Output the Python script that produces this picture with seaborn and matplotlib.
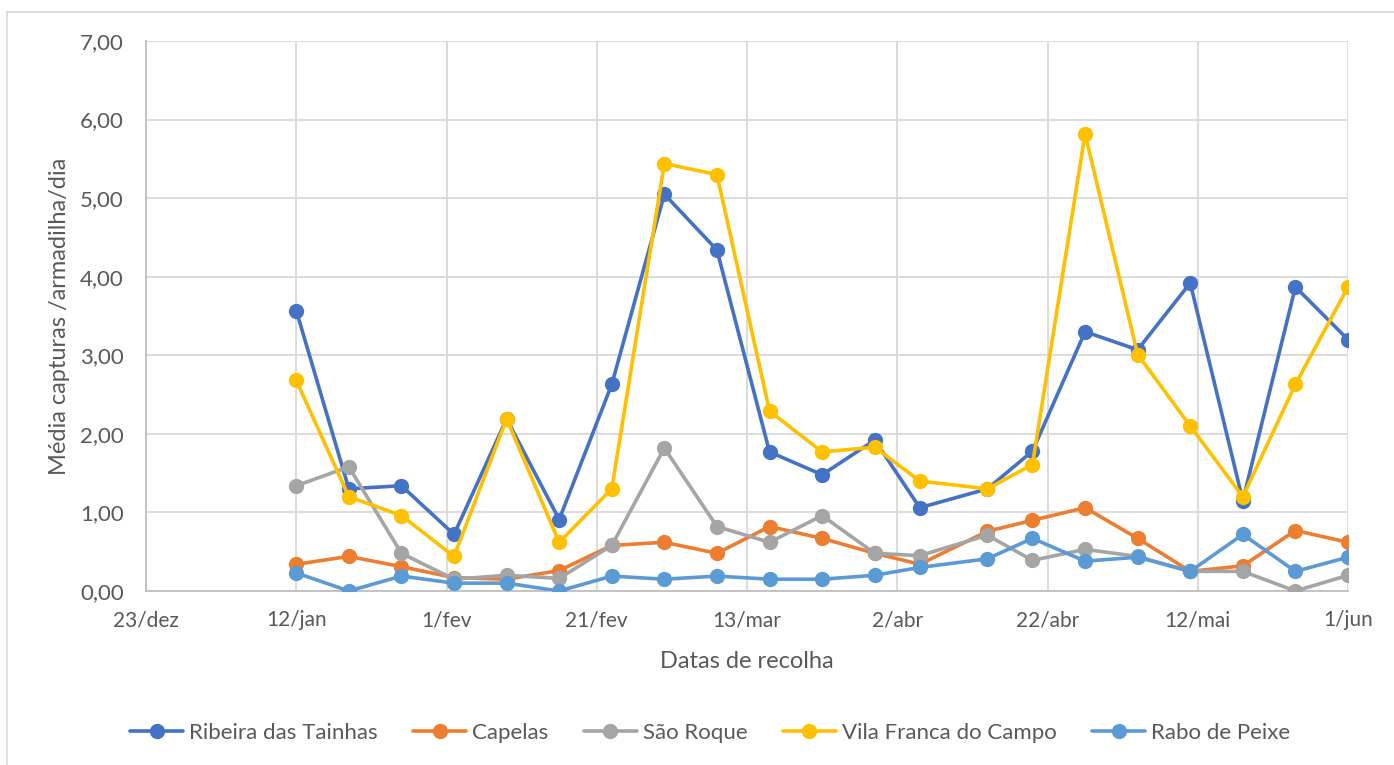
import matplotlib
matplotlib.use("Agg")
import matplotlib.pyplot as plt
import matplotlib.ticker as mticker
from matplotlib.lines import Line2D
import seaborn as sns
import pandas as pd

# ---------------- data ----------------
dates = ["2019-01-12", "2019-01-19", "2019-01-26", "2019-02-02", "2019-02-09",
         "2019-02-16", "2019-02-23", "2019-03-02", "2019-03-09", "2019-03-16",
         "2019-03-23", "2019-03-30", "2019-04-05", "2019-04-14", "2019-04-20",
         "2019-04-27", "2019-05-04", "2019-05-11", "2019-05-18", "2019-05-25",
         "2019-06-01"]

series_names = ["Ribeira das Tainhas", "Capelas", "São Roque",
                "Vila Franca do Campo", "Rabo de Peixe"]

ribeira = [3.57, 1.30, 1.34, 0.72, 2.19, 0.91, 2.63, 5.05, 4.34, 1.77, 1.48,
           1.92, 1.06, 1.30, 1.78, 3.30, 3.07, 3.92, 1.15, 3.87, 3.20]
capelas = [0.34, 0.44, 0.31, 0.17, 0.15, 0.26, 0.58, 0.62, 0.48, 0.82, 0.67,
           0.48, 0.34, 0.76, 0.90, 1.06, 0.67, 0.25, 0.32, 0.77, 0.62]
sao_roque = [1.34, 1.58, 0.48, 0.15, 0.20, 0.16, 0.58, 1.82, 0.82, 0.62, 0.96,
             0.48, 0.45, 0.71, 0.39, 0.53, 0.44, 0.25, 0.25, 0.00, 0.20]
vila_franca = [2.68, 1.20, 0.96, 0.44, 2.19, 0.62, 1.30, 5.44, 5.30, 2.29, 1.77,
               1.83, 1.40, 1.30, 1.61, 5.82, 3.01, 2.10, 1.20, 2.63, 3.87]
rabo_peixe = [0.23, 0.00, 0.19, 0.10, 0.10, 0.00, 0.19, 0.15, 0.19, 0.15, 0.15,
              0.20, 0.30, 0.41, 0.67, 0.38, 0.43, 0.25, 0.72, 0.25, 0.43]

tick_dates = ["2018-12-23", "2019-01-12", "2019-02-01", "2019-02-21", "2019-03-13",
              "2019-04-02", "2019-04-22", "2019-05-12", "2019-06-01"]
tick_labels = ["23/dez", "12/jan", "1/fev", "21/fev", "13/mar", "2/abr",
               "22/abr", "12/mai", "1/jun"]

colors = ["#4472C4", "#ED7D31", "#A5A5A5", "#FFC000", "#5B9BD5"]

# ---------------- build table ----------------
values = [ribeira, capelas, sao_roque, vila_franca, rabo_peixe]
frames = []
for name, vals in zip(series_names, values):
    frames.append(pd.DataFrame({"data": pd.to_datetime(dates), "valor": vals,
                                "local": name}))
df = pd.concat(frames, ignore_index=True)

# ---------------- style ----------------
sns.set_theme(style="white")
plt.rcParams["font.family"] = ["Lato", "DejaVu Sans"]
txt = "#595959"

fig = plt.figure(figsize=(13.94, 7.65), dpi=100)
ax = fig.add_axes([146 / 1394, 1 - 591 / 765, (1348 - 146) / 1394, (591 - 41) / 765])

sns.lineplot(data=df, x="data", y="valor", hue="local", hue_order=series_names,
             palette=colors, marker="o", markersize=11, markeredgewidth=0,
             linewidth=2.6, ax=ax, legend=False, zorder=3)

ax.set_xlim(pd.Timestamp(tick_dates[0]), pd.Timestamp(tick_dates[-1]))
ax.set_ylim(0, 7)
ax.set_xticks(pd.to_datetime(tick_dates))
ax.set_xticklabels(tick_labels)
ax.yaxis.set_major_locator(mticker.MultipleLocator(1))
ax.yaxis.set_major_formatter(
    mticker.FuncFormatter(lambda v, p: f"{v:.2f}".replace(".", ",")))

ax.grid(True, color="#d9d9d9", linewidth=1.3, zorder=0)
ax.set_axisbelow(True)
for s in ["top", "right"]:
    ax.spines[s].set_visible(False)
for s in ["left", "bottom"]:
    ax.spines[s].set_color("#bfbfbf")
    ax.spines[s].set_linewidth(1.3)

ax.tick_params(axis="both", length=0, labelcolor=txt)
ax.tick_params(axis="y", pad=16, labelsize=16)
ax.tick_params(axis="x", pad=14, labelsize=15)

ax.set_xlabel("Datas de recolha", fontsize=17, color=txt, labelpad=15)
ax.set_ylabel("Média capturas /armadilha/dia", fontsize=17, color=txt,
              labelpad=7)

handles = [Line2D([0], [0], color=c, linewidth=2.6, marker="o", markersize=11,
                  markeredgewidth=0) for c in colors]
fig.legend(handles, series_names, loc="center", bbox_to_anchor=(710 / 1394, 1 - 733 / 765),
           ncol=5, frameon=False, fontsize=16, labelcolor=txt, handlelength=2.4,
           handletextpad=0.25, columnspacing=1.6)

# chart area border (Excel-like)
fig.add_artist(Line2D([7 / 1394, 1.0], [1 - 12 / 765, 1 - 12 / 765],
                      color="#d9d9d9", linewidth=1.2, transform=fig.transFigure))
fig.add_artist(Line2D([7 / 1394, 7 / 1394], [1 - 12 / 765, 0.0],
                      color="#d9d9d9", linewidth=1.2, transform=fig.transFigure))

fig.savefig("out.png", dpi=100, facecolor="white")
